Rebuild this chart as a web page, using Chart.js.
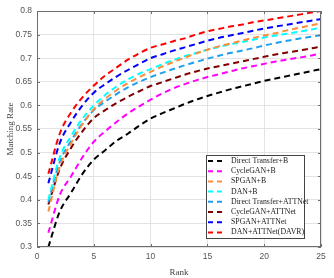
<!DOCTYPE html>
<html>
<head>
<meta charset="utf-8">
<script src="https://cdn.jsdelivr.net/npm/chart.js@4"></script>
<style>
  html, body { margin: 0; padding: 0; background: #fff; }
  #wrap { width: 334px; height: 278px; }
</style>
</head>
<body>
<div id="wrap"><canvas id="chart" width="334" height="278"></canvas></div>
<script>
// CMC curves, rank 1..25
const ranks = [1,2,3,4,5,6,7,8,9,10,11,12,13,14,15,16,17,18,19,20,21,22,23,24,25];

const directTransferB = [0.30,0.375,0.415,0.455,0.485,0.505,0.525,0.54,0.557,0.572,0.583,0.593,0.603,0.612,0.62,0.627,0.634,0.64,0.646,0.652,0.657,0.662,0.667,0.672,0.677];
const cycleGanB       = [0.33,0.41,0.45,0.49,0.523,0.545,0.565,0.583,0.598,0.612,0.625,0.636,0.645,0.653,0.66,0.666,0.672,0.678,0.683,0.688,0.693,0.697,0.701,0.705,0.71];
const spganB          = [0.375,0.47,0.52,0.56,0.592,0.614,0.632,0.647,0.66,0.671,0.682,0.692,0.701,0.71,0.718,0.725,0.731,0.737,0.743,0.748,0.753,0.759,0.764,0.769,0.774];
const danB            = [0.40,0.49,0.535,0.572,0.60,0.622,0.64,0.655,0.667,0.677,0.687,0.696,0.704,0.711,0.718,0.724,0.729,0.734,0.739,0.744,0.748,0.752,0.756,0.76,0.765];
const directTransferAtt = [0.395,0.48,0.525,0.562,0.59,0.608,0.624,0.638,0.65,0.66,0.669,0.677,0.685,0.692,0.699,0.705,0.711,0.716,0.721,0.727,0.732,0.737,0.741,0.745,0.749];
const cycleGanAtt     = [0.39,0.465,0.51,0.545,0.573,0.59,0.605,0.618,0.63,0.641,0.649,0.657,0.665,0.672,0.678,0.683,0.688,0.693,0.698,0.703,0.708,0.712,0.716,0.72,0.725];
const spganAtt        = [0.435,0.52,0.565,0.60,0.627,0.645,0.661,0.675,0.688,0.70,0.708,0.716,0.723,0.73,0.737,0.743,0.748,0.753,0.758,0.763,0.767,0.771,0.775,0.779,0.783];
const danAtt          = [0.455,0.54,0.585,0.617,0.642,0.663,0.68,0.697,0.71,0.722,0.729,0.736,0.742,0.75,0.757,0.762,0.767,0.771,0.776,0.78,0.784,0.788,0.792,0.796,0.80];

const seriesNames = ['Direct Transfer+B','CycleGAN+B','SPGAN+B','DAN+B','Direct Transfer+ATTNet','CycleGAN+ATTNet','SPGAN+ATTNet','DAN+ATTNet(DAVR)'];
const seriesData = [directTransferB, cycleGanB, spganB, danB, directTransferAtt, cycleGanAtt, spganAtt, danAtt];
const seriesColors = ['#000000','#ff00ff','#ff8c3a','#00ffff','#1ea0ef','#800000','#0000ff','#ff0000'];

const xTicks = [0,5,10,15,20,25];
const yTicks = [0.3,0.35,0.4,0.45,0.5,0.55,0.6,0.65,0.7,0.75,0.8];

const DASH = [6, 4];

const frameAndLegend = {
    id: 'frameAndLegend',
    afterDatasetsDraw(chart) {
        const { ctx, chartArea: a } = chart;
        ctx.save();
        // axes box
        ctx.strokeStyle = '#6e6e6e';
        ctx.lineWidth = 1;
        ctx.strokeRect(a.left + 0.5, a.top + 0.5, a.right - a.left - 1, a.bottom - a.top - 1);
        // small inward ticks on all sides
        const xs = chart.scales.x, ys = chart.scales.y;
        ctx.beginPath();
        xTicks.forEach(v => {
            const px = Math.round(xs.getPixelForValue(v)) + 0.5;
            ctx.moveTo(px, a.top); ctx.lineTo(px, a.top + 3);
            ctx.moveTo(px, a.bottom); ctx.lineTo(px, a.bottom - 3);
        });
        yTicks.forEach(v => {
            const py = Math.round(ys.getPixelForValue(v)) + 0.5;
            ctx.moveTo(a.right, py); ctx.lineTo(a.right - 3, py);
            ctx.moveTo(a.left, py); ctx.lineTo(a.left + 3, py);
        });
        ctx.stroke();

        // legend box
        const bx = 206, by = 155, bw = 98, bh = 83;
        ctx.fillStyle = '#fff';
        ctx.fillRect(bx, by, bw, bh);
        ctx.strokeStyle = '#444';
        ctx.strokeRect(bx + 0.5, by + 0.5, bw, bh);
        ctx.font = '7.8px "Liberation Serif"';
        ctx.textBaseline = 'middle';
        seriesNames.forEach((name, i) => {
            const y = by + 6 + i * 10.2;
            ctx.strokeStyle = seriesColors[i];
            ctx.lineWidth = 2;
            ctx.setLineDash([5, 4]);
            ctx.beginPath();
            ctx.moveTo(bx + 2, y); ctx.lineTo(bx + 20, y);
            ctx.stroke();
            ctx.setLineDash([]);
            ctx.fillStyle = '#222';
            ctx.fillText(name, bx + 25, y);
        });
        ctx.restore();
    }
};

new Chart(document.getElementById('chart'), {
    type: 'line',
    data: {
        datasets: seriesNames.map((name, i) => ({
            label: name,
            data: ranks.map((r, k) => ({ x: r, y: seriesData[i][k] })),
            borderColor: seriesColors[i],
            borderWidth: 2,
            borderDash: DASH,
            pointRadius: 0,
            cubicInterpolationMode: 'monotone',
            fill: false
        }))
    },
    options: {
        responsive: false,
        animation: false,
        layout: { padding: { top: 11, right: 13, left: 0, bottom: 0 } },
        plugins: { legend: { display: false }, tooltip: { enabled: false } },
        scales: {
            x: {
                type: 'linear', min: 0, max: 25,
                afterBuildTicks: s => { s.ticks = xTicks.map(v => ({ value: v })); },
                afterFit: s => { s.height = 31; },
                grid: { color: '#e3e3e3', drawTicks: false },
                border: { display: false },
                ticks: { color: '#555', font: { family: 'Liberation Sans', size: 8.5 }, padding: 5, maxRotation: 0 },
                title: { display: true, text: 'Rank', color: '#444', font: { family: 'Liberation Serif', size: 9 }, padding: { top: 2, bottom: 0 } }
            },
            y: {
                min: 0.3, max: 0.8,
                afterBuildTicks: s => { s.ticks = yTicks.map(v => ({ value: v })); },
                afterFit: s => { s.width = 37; },
                grid: { color: '#e3e3e3', drawTicks: false },
                border: { display: false },
                ticks: { color: '#555', font: { family: 'Liberation Sans', size: 8.5 }, padding: 5,
                    callback: v => String(Math.round(v * 100) / 100) },
                title: { display: true, text: 'Matching Rate', color: '#444', font: { family: 'Liberation Serif', size: 9 }, padding: { top: 5, bottom: 0 } }
            }
        }
    },
    plugins: [frameAndLegend]
});
</script>
</body>
</html>
